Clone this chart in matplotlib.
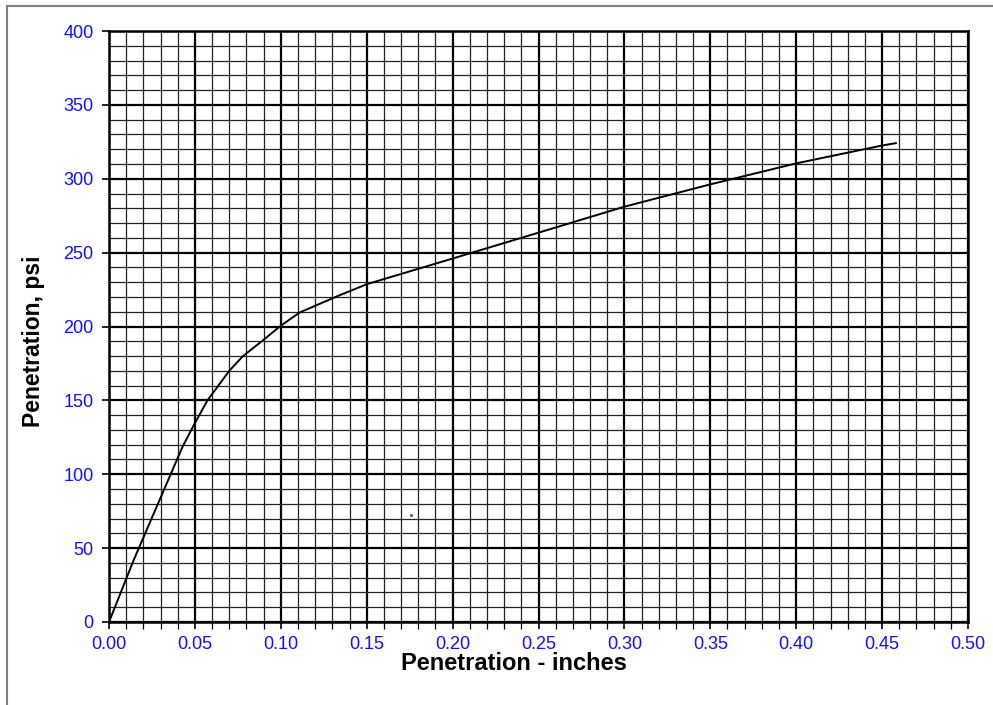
import matplotlib
matplotlib.use('Agg')
import matplotlib.pyplot as plt
from matplotlib.patches import Rectangle
from matplotlib.ticker import MultipleLocator
import numpy as np

# values
penetration_in = [0, 0.0144, 0.0428, 0.05, 0.0573, 0.070, 0.078, 0.090, 0.0994,
                  0.111, 0.1333, 0.15, 0.20, 0.25, 0.30, 0.35, 0.40, 0.45, 0.458]
load_psi = [0, 42, 118.6, 134.6, 150, 170, 180, 191, 200,
            209.5, 220.7, 228.6, 246, 263.5, 281.1, 296.2, 310.4, 322.5, 324.1]

# the lone speck in the plot area
stray_x = [0.176]
stray_y = [72.4]

x_ticks = np.arange(0, 0.51, 0.05)
y_ticks = np.arange(0, 401, 50)


def main():
    plt.rcParams['font.family'] = ['Liberation Sans', 'DejaVu Sans']
    fig = plt.figure(figsize=(9.93, 7.05), dpi=100)
    ax = fig.add_axes([109 / 993, 1 - 622 / 705, (968 - 109) / 993, (622 - 31) / 705])

    # gray frame around the chart
    fig.patches.append(Rectangle((7 / 993, -0.1), 1.2, 1 - 6 / 705 + 0.1,
                                 transform=fig.transFigure, fill=False,
                                 edgecolor='#808080', linewidth=1.5, clip_on=False))

    ax.set_xlim(0, 0.5)
    ax.set_ylim(0, 400)
    ax.set_xticks(x_ticks)
    ax.set_yticks(y_ticks)
    ax.set_xticklabels(['%.2f' % v for v in x_ticks])
    ax.set_yticklabels(['%d' % v for v in y_ticks])
    ax.xaxis.set_minor_locator(MultipleLocator(0.01))
    ax.yaxis.set_minor_locator(MultipleLocator(10))

    ax.grid(which='major', color='black', linewidth=1.6)
    ax.grid(which='minor', color='#222222', linewidth=0.9)
    ax.set_axisbelow(True)

    ax.tick_params(axis='both', which='major', direction='out', length=5,
                   width=1.2, colors='black', labelcolor='#1010ff', labelsize=13)
    ax.tick_params(axis='x', which='major', pad=5)
    ax.tick_params(axis='y', which='major', pad=6)
    ax.tick_params(axis='x', which='minor', direction='out', length=5, width=0.9)
    ax.tick_params(axis='y', which='minor', length=0)

    for s in ax.spines.values():
        s.set_linewidth(1.8)
        s.set_color('black')

    ax.plot(penetration_in, load_psi, color='black', linewidth=1.4, zorder=3)
    ax.plot(stray_x, stray_y, 's', color='#555555', markersize=1, zorder=3)

    fig.text(514 / 993, 1 - 664 / 705, 'Penetration - inches', fontsize=17,
             fontweight='bold', ha='center', va='center')
    fig.text(34 / 993, 1 - 341 / 705, 'Penetration, psi', fontsize=16.5,
             fontweight='bold', ha='center', va='center', rotation=90)

    fig.savefig('out.png', dpi=100)


if __name__ == '__main__':
    main()
